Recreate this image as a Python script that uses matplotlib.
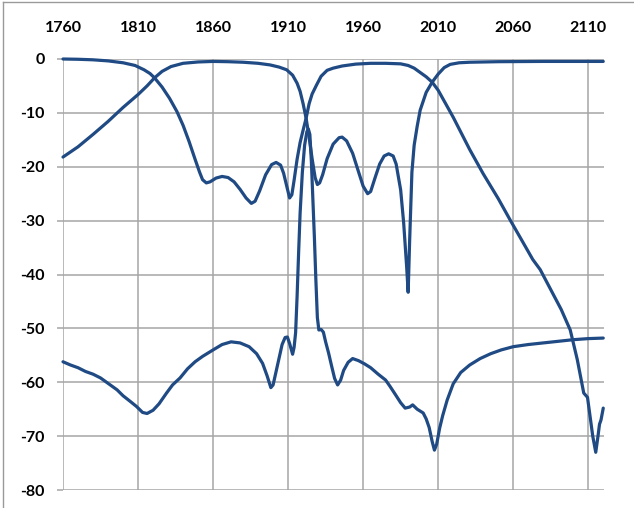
"""
plot.py — Filter response chart (Tx / Rx transmission and isolation, dB vs MHz).

Three traces on one panel with the frequency axis labelled along the top,
Excel-style grid and bold tick labels. Saves out.png at 634x508 px.
"""

import matplotlib

matplotlib.use("Agg")
import matplotlib.pyplot as plt
from matplotlib.lines import Line2D

# ------------------------------------------------------------------ data

tx_freq = [
    1760, 1770, 1780, 1790, 1800, 1810, 1816, 1821, 1826, 1832, 1840, 1850,
    1860, 1870, 1880, 1890, 1898, 1904, 1909, 1913, 1916, 1918, 1920, 1922,
    1924, 1926, 1928, 1929.5, 1931, 1933, 1936, 1940, 1944, 1946, 1949, 1953,
    1957, 1960, 1963, 1965, 1968, 1971, 1974, 1977, 1980, 1982, 1985, 1987,
    1989, 1990, 1991, 1992.5, 1994, 1996, 1998, 2002, 2006, 2010, 2014, 2018,
    2024, 2031, 2050, 2080, 2120,
]
tx_db = [
    -18.2, -16.3, -14.0, -11.6, -9.0, -6.6, -5.0, -3.5, -2.3, -1.4, -0.8, -0.55,
    -0.45, -0.5, -0.6, -0.8, -1.1, -1.5, -2.0, -3.0, -4.5, -6.0, -8.3, -11.0,
    -14.5, -18.5, -22.0, -23.3, -23.0, -21.5, -18.5, -15.8, -14.6, -14.5, -15.2, -17.5,
    -21.0, -23.6, -25.0, -24.6, -22.0, -19.5, -18.0, -17.6, -18.0, -19.5, -24.3, -30.4,
    -38.6, -43.3, -33.6, -21.0, -16.0, -12.5, -9.5, -6.2, -4.3, -2.8, -1.6, -1.0,
    -0.7, -0.6, -0.5, -0.45, -0.45,
]

rx_freq = [
    1760, 1770, 1780, 1790, 1800, 1808, 1814, 1818, 1821, 1826, 1831, 1836,
    1840, 1844, 1848, 1851, 1853, 1855.5, 1858, 1862, 1866, 1870, 1874, 1878,
    1882, 1885.5, 1888, 1891, 1895, 1899, 1902, 1905, 1907, 1909, 1911, 1912.5,
    1914, 1916, 1918, 1920, 1922, 1924, 1926, 1929, 1932, 1936, 1940, 1946,
    1955, 1965, 1975, 1985, 1990, 1994, 1998, 2002, 2006, 2010, 2020, 2031,
    2040, 2050, 2058, 2065, 2073, 2078, 2085, 2092, 2098, 2102.7, 2107, 2109.5,
    2113, 2115, 2116.5, 2117.5, 2118.5, 2120,
]
rx_db = [
    0.0, -0.05, -0.15, -0.35, -0.7, -1.2, -2.0, -2.7, -3.5, -5.2, -7.3, -9.8,
    -12.3, -15.3, -18.6, -21.0, -22.4, -23.0, -22.8, -22.1, -21.8, -22.0, -22.8, -24.2,
    -25.8, -26.8, -26.4, -24.5, -21.5, -19.6, -19.2, -19.7, -21.2, -23.5, -25.8, -25.2,
    -22.5, -18.6, -15.5, -13.2, -11.0, -8.3, -6.5, -4.8, -3.2, -2.1, -1.7, -1.3,
    -0.95, -0.8, -0.8, -0.9, -1.2, -1.7, -2.5, -3.3, -4.3, -5.8, -10.8, -16.8,
    -21.3, -25.9, -29.9, -33.3, -37.2, -39.1, -42.8, -46.5, -50.3, -55.8, -62.0, -62.8,
    -70.0, -73.0, -70.0, -67.8, -67.0, -64.8,
]

iso_freq = [
    1760, 1765, 1770, 1775, 1780, 1785, 1790, 1796, 1800, 1805, 1809, 1813,
    1816, 1820, 1824, 1829, 1833, 1838, 1843, 1848, 1853, 1860, 1866, 1872,
    1878, 1884, 1889, 1893, 1896, 1898.5, 1900, 1902, 1904, 1906, 1908, 1909.5,
    1911, 1913, 1914, 1915, 1916, 1917, 1918, 1919.5, 1921, 1922.5, 1923.5, 1924.5,
    1925.5, 1926.5, 1927.5, 1928.5, 1929.5, 1930.5, 1932, 1933.5, 1935, 1937, 1939, 1941,
    1943, 1945, 1947, 1950, 1953, 1957, 1961, 1965, 1970, 1975, 1978, 1982,
    1985, 1988, 1991, 1993, 1996, 2000, 2002, 2004, 2006, 2007.5, 2009, 2011,
    2013, 2016, 2020, 2025, 2031, 2038, 2045, 2052, 2060, 2070, 2080, 2090,
    2100, 2110, 2120,
]
iso_db = [
    -56.2, -56.8, -57.3, -58.0, -58.5, -59.2, -60.2, -61.4, -62.5, -63.6, -64.5, -65.6,
    -65.8, -65.2, -64.0, -62.0, -60.5, -59.2, -57.5, -56.2, -55.2, -54.0, -53.0, -52.5,
    -52.7, -53.4, -54.7, -56.5, -58.8, -61.0, -60.5, -58.0, -55.5, -53.0, -51.7, -51.6,
    -52.8, -54.8, -53.5, -50.8, -44.0, -36.0, -28.6, -21.0, -16.0, -13.5, -13.0, -14.0,
    -19.0, -26.0, -33.0, -41.0, -48.0, -50.3, -50.2, -50.7, -52.5, -54.6, -57.0, -59.3,
    -60.5, -59.6, -57.8, -56.3, -55.6, -56.0, -56.6, -57.3, -58.5, -59.6, -60.8, -62.5,
    -63.8, -64.8, -64.6, -64.2, -65.0, -65.7, -66.8, -68.4, -71.0, -72.6, -71.5, -68.5,
    -66.2, -63.3, -60.3, -58.2, -56.8, -55.6, -54.7, -54.0, -53.4, -53.0, -52.7, -52.4,
    -52.1, -51.9, -51.8,
]

x_ticks = [1760, 1810, 1860, 1910, 1960, 2010, 2060, 2110]
y_ticks = [0, -10, -20, -30, -40, -50, -60, -70, -80]

LINE_COLOR = "#1f4a84"
GRID_COLOR = "#a6a6a6"


def main() -> None:
    plt.rcParams["font.family"] = ["Lato", "DejaVu Sans"]
    plt.rcParams["axes.unicode_minus"] = False

    fig = plt.figure(figsize=(6.34, 5.08), dpi=100)
    ax = fig.add_axes([63 / 634, 1 - 490 / 508, (604 - 63) / 634, (490 - 59) / 508])

    for xs, ys in ((tx_freq, tx_db), (rx_freq, rx_db), (iso_freq, iso_db)):
        ax.plot(xs, ys, color=LINE_COLOR, linewidth=2.3, clip_on=False,
                solid_joinstyle="round", solid_capstyle="round", zorder=3)

    ax.set_xlim(1760, 2120.5)
    ax.set_ylim(-80, 0)
    ax.set_xticks(x_ticks)
    ax.set_yticks(y_ticks)
    ax.set_yticklabels([str(v) for v in y_ticks])
    ax.xaxis.tick_top()
    ax.tick_params(axis="x", length=0, pad=17, labelsize=11.5)
    ax.tick_params(axis="y", length=4, width=1.1, color=GRID_COLOR,
                   direction="out", pad=9, labelsize=11.5)
    for lab in ax.get_xticklabels() + ax.get_yticklabels():
        lab.set_fontweight("bold")

    ax.grid(True, color=GRID_COLOR, linewidth=1.1)
    ax.set_axisbelow(True)
    for side in ax.spines.values():
        side.set_visible(False)

    # outer chart-area border (left and top edges show in the crop)
    fig.add_artist(Line2D([3 / 634, 3 / 634], [0, 1 - 2 / 508],
                          color="#9a9a9a", linewidth=1.0))
    fig.add_artist(Line2D([3 / 634, 1], [1 - 2 / 508, 1 - 2 / 508],
                          color="#9a9a9a", linewidth=1.0))

    fig.savefig("out.png", dpi=100)
    plt.close(fig)


if __name__ == "__main__":
    main()
